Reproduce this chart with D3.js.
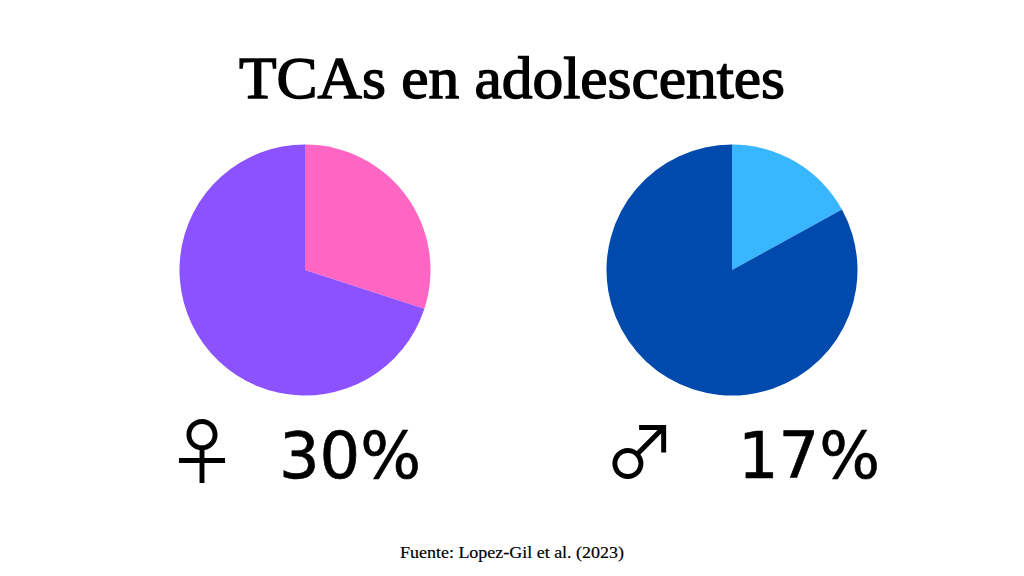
<!DOCTYPE html>
<html><head><meta charset="utf-8">
<script src="https://cdn.jsdelivr.net/npm/d3@7/dist/d3.min.js"></script>
<style>html,body{margin:0;padding:0;background:#fff}svg{display:block}</style>
</head><body><svg id="c" width="1024" height="576"></svg>
<script>
const titleText = "TCAs en adolescentes";
const sourceText = "Fuente: Lopez-Gil et al. (2023)";
const groups = ["♀","♂"];
const percents = [30,17];
const accentColors = ["#ff66c4","#38b6ff"];
const restColors = ["#8c52ff","#004aad"];
const svg = d3.select("#c");
const serif = "'Liberation Serif','DejaVu Serif',serif";
const sans = "'DejaVu Sans',sans-serif";
const sym = "'Noto Sans CJK JP','DejaVu Sans',sans-serif";
svg.append("text").attr("x",512).attr("y",98).attr("text-anchor","middle")
  .attr("font-family",serif).attr("font-size",60).attr("fill","#000")
  .attr("stroke","#000").attr("stroke-width",1.4)
  .attr("textLength",546).attr("lengthAdjust","spacingAndGlyphs").text(titleText);
const cx=d3.scaleOrdinal().domain(groups).range([305,732]);
const symX=d3.scaleOrdinal().domain(groups).range([202,640]);
const pctX=d3.scaleOrdinal().domain(groups).range([350,809]);
const pie=d3.pie().sort(null);
const arc=d3.arc().innerRadius(0).outerRadius(125.5);
groups.forEach((g,i)=>{
  const gg=svg.append("g").attr("transform",`translate(${cx(g)},270)`);
  gg.selectAll("path").data(pie([percents[i],100-percents[i]])).join("path")
    .attr("d",arc).attr("fill",(d,j)=>j===0?accentColors[i]:restColors[i]);
  svg.append("text").attr("x",symX(g)).attr("y",478).attr("text-anchor","middle")
    .attr("font-family",sym).attr("font-size",72).attr("fill","#000").text(g);
  svg.append("text").attr("x",pctX(g)).attr("y",478).attr("text-anchor","middle")
    .attr("font-family",sans).attr("font-size",64).attr("fill","#000")
    .attr("stroke","#000").attr("stroke-width",0.6).text(percents[i]+"%");
});
svg.append("text").attr("x",512).attr("y",558).attr("text-anchor","middle")
  .attr("font-family",serif).attr("font-size",17).attr("fill","#000")
  .attr("stroke","#000").attr("stroke-width",0.2)
  .attr("textLength",224).attr("lengthAdjust","spacingAndGlyphs").text(sourceText);
</script></body></html>
